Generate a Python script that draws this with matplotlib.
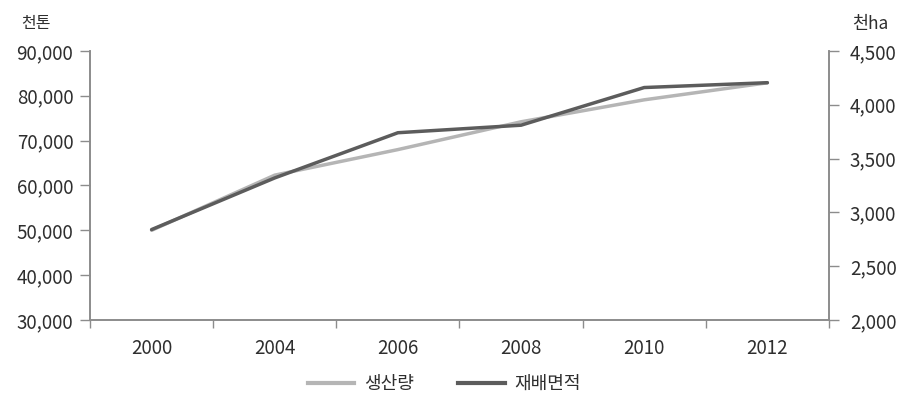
import matplotlib
matplotlib.use("Agg")
import matplotlib.pyplot as plt
from matplotlib.ticker import FuncFormatter, FixedLocator
from matplotlib.lines import Line2D

plt.rcParams['font.family'] = ['Noto Sans CJK KR', 'DejaVu Sans']

years = ['2000', '2004', '2006', '2008', '2010', '2012']
production = [50000, 62300, 68000, 74200, 79100, 82900]      # 천톤
cultivated_area = [2840, 3320, 3740, 3810, 4160, 4205]       # 천ha

left_ticks = [30000, 40000, 50000, 60000, 70000, 80000, 90000]
right_ticks = [2000, 2500, 3000, 3500, 4000, 4500]

light = '#b5b5b5'
dark = '#5c5c5c'
axis_col = '#8c8c8c'
text_col = '#2e2e2e'
tick_fs = 13.5

fig = plt.figure(figsize=(9.03, 3.95), dpi=100)
ax = fig.add_axes([0.0997, 0.190, 0.8183, 0.681])
ax2 = ax.twinx()

x = list(range(len(years)))
ax.plot(x, production, color=light, lw=2.5, solid_capstyle='round', zorder=2)
ax2.plot(x, cultivated_area, color=dark, lw=2.5, solid_capstyle='round', zorder=3)

ax.set_xlim(-0.5, len(years) - 0.5)
ax.set_ylim(left_ticks[0], left_ticks[-1])
ax2.set_ylim(right_ticks[0], right_ticks[-1])

fmt = FuncFormatter(lambda v, p: f'{int(v):,}')
ax.yaxis.set_major_locator(FixedLocator(left_ticks))
ax.yaxis.set_major_formatter(fmt)
ax2.yaxis.set_major_locator(FixedLocator(right_ticks))
ax2.yaxis.set_major_formatter(fmt)

ax.set_xticks(x)
ax.set_xticklabels(years)
ax.set_xticks([i - 0.5 for i in range(len(years) + 1)], minor=True)
ax.tick_params(axis='x', which='major', length=0, pad=13, labelsize=tick_fs, labelcolor=text_col)
ax.tick_params(axis='x', which='minor', length=6, width=1, color=axis_col, direction='out')
ax.tick_params(axis='y', length=7, width=1, color=axis_col, pad=5, labelsize=tick_fs, labelcolor=text_col)
ax2.tick_params(axis='y', length=7, width=1, color=axis_col, pad=8, labelsize=tick_fs, labelcolor=text_col)

for a in (ax, ax2):
    a.spines['top'].set_visible(False)
    for s in ('left', 'right', 'bottom'):
        a.spines[s].set_color(axis_col)
        a.spines[s].set_linewidth(1.2)

fig.text(0.024, 0.94, '천톤', fontsize=11.5, color=text_col, ha='left', va='center')
fig.text(0.944, 0.94, '천ha', fontsize=12.5, color=text_col, ha='left', va='center')

handles = [Line2D([], [], color=light, lw=3), Line2D([], [], color=dark, lw=3)]
fig.legend(handles, ['생산량', '재배면적'], loc='center', bbox_to_anchor=(0.492, 0.028),
           ncol=2, frameon=False, fontsize=13, handlelength=2.6, columnspacing=2.4,
           handletextpad=0.55, labelcolor=text_col)

fig.savefig('out.png', dpi=100)
